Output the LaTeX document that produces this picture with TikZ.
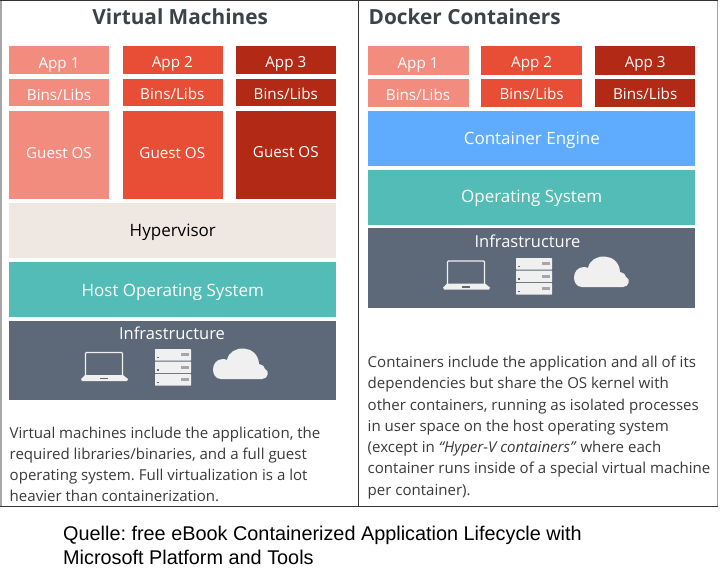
\documentclass[tikz,border=0pt]{standalone}
\usepackage{fontspec}
\setmainfont{Open Sans}
\newfontfamily\quellefont{Liberation Sans}
\definecolor{lightred}{HTML}{F28C7F}
\definecolor{midred}{HTML}{E84D36}
\definecolor{darkred}{HTML}{B22A15}
\definecolor{hypercol}{HTML}{EFE8E2}
\definecolor{teal}{HTML}{53BCB6}
\definecolor{infra}{HTML}{5D6878}
\definecolor{engine}{HTML}{5FABFE}
\definecolor{iconcol}{HTML}{F0F0F0}
\definecolor{bodytext}{HTML}{3A3A3A}
\definecolor{titletext}{HTML}{3C4348}
\tikzset{
  x=1pt,y=-1pt,
  labeltxt/.style={inner sep=0pt,anchor=base,text=white,font=\fontsize{15.2}{18}\selectfont},
  bigtxt/.style={inner sep=0pt,anchor=base,text=white,font=\fontsize{17}{20}\selectfont},
  infratxt/.style={inner sep=0pt,anchor=base,text=white,font=\fontsize{16.5}{20}\selectfont},
  titletxt/.style={inner sep=0pt,anchor=base,text=titletext,font=\bfseries\fontsize{20.8}{24}\selectfont},
  bodytxt/.style={inner sep=0pt,text=bodytext,anchor=north west,align=left,font=\frenchspacing\fontsize{15.05}{21.25}\selectfont},
  quelletxt/.style={inner sep=0pt,text=black,anchor=north west,align=left,font=\frenchspacing\quellefont\fontsize{19.85}{24.6}\selectfont},
  darkpen/.style={draw=black!80,line width=1pt},
  greypen/.style={draw=black!35,line width=1.6pt},
  laptop/.pic={
    \fill[iconcol] (-19,9) -- (19,9) -- (24,13) -- (23,15) -- (-22,15) -- (-23,13) -- cycle;
    \draw[iconcol,line width=1.1pt,rounded corners=1pt] (-18.5,9.5) -- (-18.5,-13.5) -- (18.5,-13.5) -- (18.5,9.5);
    \fill[infra] (-4,11.8) rectangle (4,13);
  },
  server/.pic={
    \foreach \yy in {-18,-5.5,7}{
      \fill[iconcol,rounded corners=0.6pt] (-18,\yy) rectangle (18,\yy+11.6);
      \fill[infra] (-15.7,\yy+7.8) rectangle (-14.5,\yy+9);
      \fill[black!35] (8,\yy+4) rectangle (16,\yy+7.2);
    }
  },
  cloud/.pic={
    \fill[iconcol] (-19,14) .. controls (-30,14) and (-30,-6) .. (-17,-6)
      .. controls (-15.5,-6) and (-14,-5.5) .. (-13,-5)
      .. controls (-10,-21) and (18,-21) .. (19,-1)
      .. controls (23,0) and (25,2) .. (25,4)
      .. controls (30,6) and (28,14) .. (22,14) -- cycle;
  }
}
\begin{document}
\begin{tikzpicture}
\useasboundingbox (0,0) rectangle (722,576);
\fill[white] (0,0) rectangle (722,576);
% frame
\draw[greypen] (0.8,0) -- (0.8,506);
\draw[greypen] (717.5,0) -- (717.5,506);
\draw[darkpen] (0,0.6) -- (718,0.6);
\draw[darkpen] (0,506.3) -- (718,506.3);
\draw[darkpen] (358.5,0.6) -- (358.5,506.3);
% titles
\node[titletxt] (t1) at (180.2,24) {Virtual Machines};
\node[titletxt,anchor=base west] (t2) at (368.5,24) {Docker Containers};
% left stacks
\foreach \nm/\xa/\xb/\cc/\dy/\cx in {1/9/109/lightred/0/59,2/122.5/223/midred/-0.5/172.3,3/236/336/darkred/-1/285.8}{
  \fill[\cc] (\xa,46) rectangle (\xb,74);
  \fill[\cc] (\xa,79) rectangle (\xb,106);
  \fill[\cc] (\xa,110.5) rectangle (\xb,199);
  \node[labeltxt] (lapp\nm) at (\cx,68+\dy) {App \nm};
  \node[labeltxt] (lbin\nm) at (\cx,100+\dy) {Bins/Libs};
  \node[labeltxt] (los\nm) at (\cx,158.7+\dy) {Guest OS};
}
\fill[hypercol] (9,202.5) rectangle (336,258);
\node[bigtxt,text=black] (hyp) at (172.8,236) {Hypervisor};
\fill[teal] (9,262) rectangle (336,317);
\node[bigtxt] (host) at (172.8,296.7) {Host Operating System};
\fill[infra] (9,320.5) rectangle (336,400);
\node[infratxt] (inf1) at (172,339.5) {Infrastructure};
\pic at (104,366) {laptop};
\pic at (173,367) {server};
\pic at (240,365) {cloud};
\node[bodytxt] (b1) at (9.5,426.5) {Virtual machines include the application, the\\required libraries/binaries, and a full guest\\operating system. Full virtualization is a lot\\heavier than containerization.};
% right stacks
\foreach \nm/\xa/\xb/\cc/\dy/\cx in {1/368/468.5/lightred/0/418,2/481/581.5/midred/-0.5/531.6,3/595/695/darkred/-1/645.2}{
  \fill[\cc] (\xa,46) rectangle (\xb,74.5);
  \fill[\cc] (\xa,79) rectangle (\xb,107);
  \node[labeltxt] (rapp\nm) at (\cx,68+\dy) {App \nm};
  \node[labeltxt] (rbin\nm) at (\cx,100+\dy) {Bins/Libs};
}
\fill[engine] (368,110.5) rectangle (695,166);
\node[bigtxt] (eng) at (531.8,144) {Container Engine};
\fill[teal] (368,169.5) rectangle (695,225);
\node[bigtxt] (os) at (531.7,202.7) {Operating System};
\fill[infra] (368,228) rectangle (695,307.5);
\node[infratxt] (inf2) at (527.5,247) {Infrastructure};
\pic at (466,274.5) {laptop};
\pic at (534,276) {server};
\pic at (601,273) {cloud};
\node[bodytxt] (b2) at (367.5,356) {Containers include the application and all of its\\dependencies but share the OS kernel with\\other containers, running as isolated processes\\in user space on the host operating system\\(except in \textit{``Hyper-V containers''} where each\\container runs inside of a special virtual machine\\per container).};
% source
\node[quelletxt] (src) at (63,525.5) {Quelle: free eBook Containerized Application Lifecycle with\\Microsoft Platform and Tools};
\end{tikzpicture}
\end{document}
